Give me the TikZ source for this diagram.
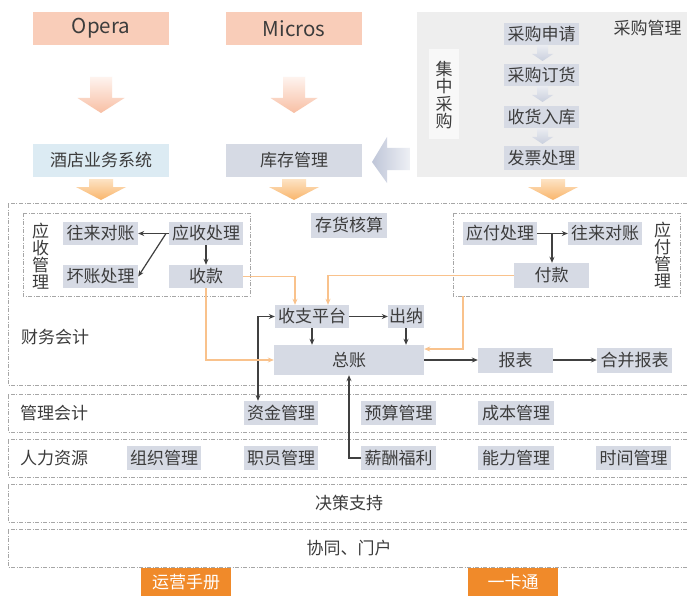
\documentclass[tikz,border=0pt]{standalone}
\usepackage{fontspec}
\setmainfont{Noto Sans CJK SC}
\usetikzlibrary{arrows.meta,calc}
\definecolor{boxc}{HTML}{D6DAE4}
\definecolor{txt}{HTML}{3C3C3C}
\definecolor{salmon}{HTML}{F9CDB9}
\definecolor{lblue}{HTML}{DCEBF3}
\definecolor{panel}{HTML}{EEEEEE}
\definecolor{panelin}{HTML}{F8F8F8}
\definecolor{orline}{HTML}{F9C28C}
\definecolor{ordark}{HTML}{F08A2A}
\definecolor{dline}{HTML}{A6A6A6}
\definecolor{arr}{HTML}{404040}
\definecolor{pinkt}{HTML}{FEF3EE}
\definecolor{pinkb}{HTML}{F8BFA4}
\definecolor{orat}{HTML}{FDE3C4}
\definecolor{orab}{HTML}{F9B56B}
\definecolor{gryt}{HTML}{EBEDF2}
\definecolor{gryb}{HTML}{C9CFDD}
\definecolor{garl}{HTML}{BFC6D8}
\definecolor{garr}{HTML}{EEF0F5}
\newcommand\fsz{\fontsize{17}{18}\selectfont}
\newcommand\fbig{\fontsize{20.5}{22}\selectfont}
\newcommand\fvert{\fontsize{17}{16.8}\selectfont}
\newcommand\fvertb{\fontsize{17}{17.5}\selectfont}
\begin{document}
\begin{tikzpicture}[x=1pt,y=-1pt,
 box/.style={fill=boxc,text=txt,inner sep=0pt,font=\fsz},
 lbl/.style={text=txt,inner sep=0pt,font=\fsz},
 vlbl/.style={text=txt,inner sep=0pt,font=\fvert,align=center},
 dbox/.style={draw=dline,line width=0.8pt,dash pattern=on 4pt off 1.5pt on 1pt off 1.5pt},
 conn/.style={draw=arr,line width=1.2pt,-{Stealth[length=6pt,width=5pt]}},
 oconn/.style={draw=orline,line width=1.2pt,-{Stealth[length=6pt,width=5pt]}},
]
\useasboundingbox[fill=white] (0,0) rectangle (687,596);

% top sources
\node[fill=salmon,text=txt,inner sep=0pt,font=\fbig,minimum width=136pt,minimum height=33pt] (opera) at (101,28.5) {Opera};
\node[fill=salmon,text=txt,inner sep=0pt,font=\fbig,minimum width=136pt,minimum height=33pt] (micros) at (294,28.5) {Micros};
\node[fill=lblue,text=txt,inner sep=0pt,font=\fsz,minimum width=136pt,minimum height=33pt] (hotel) at (101,160.5) {酒店业务系统};
\node[box,minimum width=136pt,minimum height=33pt] (kucun) at (294,160.5) {库存管理};

% pink arrows
\foreach \c in {101,294} {
  \shade[top color=pinkt,bottom color=pinkb] (\c-11,77) -- (\c+11,77) -- (\c+11,98) -- (\c+23.5,98) -- (\c,113) -- (\c-23.5,98) -- (\c-11,98) -- cycle;
}
% orange arrows
\foreach \c in {101,294,553} {
  \shade[top color=orat,bottom color=orab] (\c-12,179) -- (\c+12,179) -- (\c+12,187) -- (\c+25,187) -- (\c,200) -- (\c-25,187) -- (\c-12,187) -- cycle;
}

% purchasing panel
\fill[panel] (417,12) rectangle (687,177);
\node[lbl] (cggl) at (647.5,28) {采购管理};
\fill[panelin] (429,49) rectangle (459,139);
\node[vlbl,font=\fvertb] (jzcg) at (444,95) {集\\中\\采\\购};
\node[box,minimum width=75pt,minimum height=22pt] (p1) at (541.5,34) {采购申请};
\node[box,minimum width=75pt,minimum height=22pt] (p2) at (541.5,75) {采购订货};
\node[box,minimum width=75pt,minimum height=22pt] (p3) at (541.5,117) {收货入库};
\node[box,minimum width=75pt,minimum height=24pt] (p4) at (541.5,158) {发票处理};
\foreach \t in {45,86,128} {
  \shade[top color=gryt,bottom color=gryb] (537,\t) -- (548,\t) -- (548,\t+9) -- (553,\t+9) -- (542.5,\t+16) -- (532,\t+9) -- (537,\t+9) -- cycle;
}
% big left arrow
\shade[left color=garl,right color=garr] (372,162) -- (387,137) -- (387,148) -- (410,148) -- (410,170) -- (387,170) -- (387,183) -- cycle;

% finance region
\draw[dbox] (687,203) -- (8,203) -- (8,385) -- (687,385);
\draw[dbox] (23,213) rectangle (250,296);
\draw[dbox] (453,213) rectangle (680,296);
\node[vlbl] (ysgl) at (40.5,256) {应\\收\\管\\理};
\node[vlbl] (yfgl) at (662.5,255) {应\\付\\管\\理};
\node[lbl,anchor=west] (cwkj) at (21,337) {财务会计};

\node[box,minimum width=75pt,minimum height=23pt] (wlL) at (100.5,233.5) {往来对账};
\node[box,minimum width=74pt,minimum height=23pt] (yscl) at (206,233.5) {应收处理};
\node[box,minimum width=75pt,minimum height=23pt] (hzcl) at (100.5,276.5) {坏账处理};
\node[box,minimum width=74pt,minimum height=23pt] (sk) at (206,276.5) {收款};
\node[box,minimum width=76pt,minimum height=25pt] (chhs) at (349,225.5) {存货核算};
\node[box,minimum width=74pt,minimum height=23pt] (yfcl) at (500,233.5) {应付处理};
\node[box,minimum width=74pt,minimum height=23pt] (wlR) at (605,233.5) {往来对账};
\node[box,minimum width=75pt,minimum height=25pt] (fk) at (551.5,275.5) {付款};
\node[box,minimum width=74pt,minimum height=23pt] (szpt) at (312,316.5) {收支平台};
\node[box,minimum width=36pt,minimum height=23pt] (cn) at (406,316.5) {出纳};
\node[box,minimum width=150pt,minimum height=30pt] (zz) at (349,360) {总账};
\node[box,minimum width=75pt,minimum height=25pt] (bb) at (515.5,360) {报表};
\node[box,minimum width=75pt,minimum height=25pt] (hbbb) at (634.5,360) {合并报表};

% bands
\draw[dbox] (687,394) -- (8,394) -- (8,432) -- (687,432);
\draw[dbox] (687,439) -- (8,439) -- (8,477) -- (687,477);
\draw[dbox] (687,484) -- (8,484) -- (8,522) -- (687,522);
\draw[dbox] (687,529) -- (8,529) -- (8,567) -- (687,567);
\node[lbl,anchor=west] (glkj) at (20,413) {管理会计};
\node[lbl,anchor=west] (rlzy) at (20,458) {人力资源};
\node[box,minimum width=74pt,minimum height=24pt] (zjgl) at (281,413) {资金管理};
\node[box,minimum width=75pt,minimum height=24pt] (ysgl2) at (398.5,413) {预算管理};
\node[box,minimum width=76pt,minimum height=24pt] (cbgl) at (516,413) {成本管理};
\node[box,minimum width=74pt,minimum height=24pt] (zzgl) at (164,458) {组织管理};
\node[box,minimum width=74pt,minimum height=24pt] (zygl) at (281,458) {职员管理};
\node[box,minimum width=75pt,minimum height=24pt] (xcfl) at (398.5,458) {薪酬福利};
\node[box,minimum width=76pt,minimum height=24pt] (nlgl) at (516,458) {能力管理};
\node[box,minimum width=75pt,minimum height=24pt] (sjgl) at (633.5,458) {时间管理};
\node[lbl] (jczc) at (349,503) {决策支持};
\node[lbl] (xtmh) at (349,548) {协同、门户};
\node[fill=ordark,text=white,inner sep=0pt,font=\fsz,minimum width=90pt,minimum height=28pt] (yysc) at (186,582) {运营手册};
\node[fill=ordark,text=white,inner sep=0pt,font=\fsz,minimum width=90pt,minimum height=28pt] (ykt) at (513,582) {一卡通};

% dark connectors
\coordinate (j1) at (166,233.5);
\draw[conn] (yscl.west) -- (wlL.east);
\draw[conn] (j1) -- (hzcl.east);
\draw[conn] (yscl.south) -- (sk.north);
\draw[conn] (yfcl.east) -- (wlR.west);
\coordinate (j2) at (552,233.5);
\draw[conn] (j2) -- (j2 |- fk.north);
\draw[conn] (szpt.east) -- (cn.west);
\draw[conn] (szpt.south) -- (szpt.south |- zz.north);
\draw[conn] (cn.south) -- (cn.south |- zz.north);
\draw[conn] (zz.east) -- (bb.west);
\draw[conn] (bb.east) -- (hbbb.west);
\coordinate (c3) at (258,316.5);
\draw[draw=arr,line width=1.2pt,{Stealth[length=6pt,width=5pt]}-{Stealth[length=6pt,width=5pt]}] (szpt.west) -- (c3) -- (c3 |- zjgl.north);
\draw[conn] (xcfl.west) -| (zz.south);

% orange connectors
\coordinate (o1) at (295,276.5);
\coordinate (o2) at (328,275.5);
\coordinate (o3) at (463,296);
\draw[oconn] (sk.east) -- (o1) -- (o1 |- szpt.north);
\draw[oconn] (fk.west) -- (o2) -- (o2 |- szpt.north);
\draw[oconn] (sk.south) |- (zz.west);
\draw[oconn] (o3) |- ([yshift=11pt]zz.east);
\end{tikzpicture}
\end{document}
